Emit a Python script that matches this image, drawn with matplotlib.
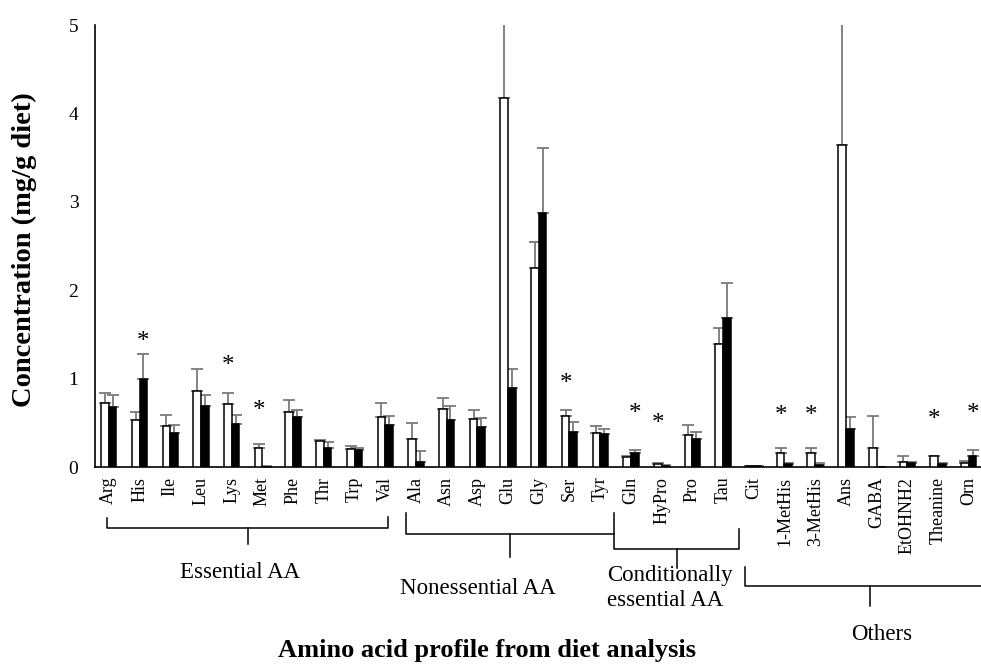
import numpy as np
import matplotlib
matplotlib.use("Agg")
import matplotlib.pyplot as plt

plt.rcParams['font.family'] = ['Liberation Serif', 'DejaVu Serif']

# Amino acids in the diet (left = white bars, right = black bars)
categories = ['Arg', 'His', 'Ile', 'Leu', 'Lys', 'Met', 'Phe', 'Thr', 'Trp', 'Val',
              'Ala', 'Asn', 'Asp', 'Glu', 'Gly', 'Ser', 'Tyr',
              'Gln', 'HyPro', 'Pro', 'Tau',
              'Cit', '1-MetHis', '3-MetHis', 'Ans', 'GABA', 'EtOHNH2', 'Theanine', 'Orn']

white_mean = [0.72, 0.53, 0.46, 0.86, 0.71, 0.21, 0.62, 0.29, 0.20, 0.56,
              0.32, 0.66, 0.54, 4.17, 2.25, 0.58, 0.38,
              0.11, 0.03, 0.36, 1.39,
              0.01, 0.16, 0.16, 3.64, 0.21, 0.06, 0.12, 0.05]
white_err = [0.12, 0.09, 0.13, 0.25, 0.13, 0.05, 0.14, 0.02, 0.04, 0.16,
             0.18, 0.12, 0.10, 1.50, 0.30, 0.06, 0.08,
             0.01, 0.01, 0.11, 0.18,
             0.005, 0.05, 0.05, 2.00, 0.37, 0.07, 0.01, 0.02]
black_mean = [0.68, 0.99, 0.39, 0.69, 0.49, 0.005, 0.56, 0.22, 0.19, 0.48,
              0.06, 0.53, 0.45, 0.89, 2.87, 0.40, 0.37,
              0.16, 0.01, 0.32, 1.69,
              0.01, 0.03, 0.02, 0.43, 0.0, 0.04, 0.03, 0.13]
black_err = [0.13, 0.29, 0.09, 0.12, 0.10, 0.01, 0.09, 0.06, 0.03, 0.10,
             0.12, 0.16, 0.10, 0.22, 0.74, 0.11, 0.06,
             0.03, 0.01, 0.08, 0.39,
             0.005, 0.01, 0.02, 0.14, 0.0, 0.02, 0.01, 0.06]

# significance marks
star_labels = ['His', 'Lys', 'Met', 'Ser', 'Gln', 'HyPro', '1-MetHis', '3-MetHis', 'Theanine', 'Orn']
star_y = [1.47, 1.20, 0.69, 0.99, 0.65, 0.54, 0.63, 0.63, 0.59, 0.65]

# group names under the axis
group_names = ['Essential AA', 'Nonessential AA', 'Conditionally\nessential AA', 'Others']

W, H = 981, 664
fig = plt.figure(figsize=(W / 100, H / 100), dpi=100)
ax = fig.add_axes([95 / W, 1 - 467 / H, 886 / W, 442 / H])

x = np.arange(len(categories))
bw = 0.25
ax.bar(x - bw / 2, white_mean, bw, color='white', edgecolor='black', linewidth=1.1, zorder=3)
ax.bar(x + bw / 2, black_mean, bw, color='black', edgecolor='black', linewidth=1.1, zorder=3)
ax.errorbar(x - bw / 2, white_mean, yerr=[np.zeros(len(x)), white_err], fmt='none',
            ecolor='#7a7a7a', elinewidth=1.3, capsize=4, capthick=1.3, zorder=2)
ax.errorbar(x + bw / 2, black_mean, yerr=[np.zeros(len(x)), black_err], fmt='none',
            ecolor='#7a7a7a', elinewidth=1.3, capsize=4, capthick=1.3, zorder=2)

# star goes over the taller bar of the pair
for lab, sy in zip(star_labels, star_y):
    i = categories.index(lab)
    sx = i - bw / 2 if white_mean[i] >= black_mean[i] else i + bw / 2
    ax.annotate('*', (sx, sy), xytext=(0, -3.5), textcoords='offset points',
                ha='center', va='center', fontsize=18)

ax.set_xlim(-0.45, 28.4)
ax.set_ylim(0, 5)
ax.set_yticks(range(6))
ax.tick_params(axis='y', length=0, pad=12, labelsize=14)
ax.set_xticks(x)
ax.set_xticklabels(categories, rotation=90, fontsize=13)
ax.tick_params(axis='x', length=0, pad=7)
for s in ['top', 'right']:
    ax.spines[s].set_visible(False)
for s in ['left', 'bottom']:
    ax.spines[s].set_linewidth(1.2)

# bracket lines under the tick labels (x in data, y in pixels -> axes fraction)
def fy(py):
    return (467 - py) / 442

tr = ax.get_xaxis_transform()
kw = dict(color='black', lw=1.1, transform=tr, clip_on=False)
# Essential
ax.plot([-0.07, -0.07, 9.09, 9.09], [fy(518), fy(528), fy(528), fy(517)], **kw)
ax.plot([4.53, 4.53], [fy(528), fy(544)], **kw)
# Nonessential
ax.plot([9.68, 9.68, 16.45], [fy(513), fy(534), fy(534)], **kw)
ax.plot([13.06, 13.06], [fy(534), fy(557)], **kw)
# Conditionally essential
ax.plot([16.45, 16.45, 20.52, 20.52], [fy(513), fy(549), fy(549), fy(529)], **kw)
ax.plot([18.50, 18.50], [fy(549), fy(568)], **kw)
# Others
ax.plot([20.72, 20.72, 29.5], [fy(567), fy(586), fy(586)], **kw)
ax.plot([24.78, 24.78], [fy(586), fy(606)], **kw)

fig.text(240 / W, 1 - 572 / H, group_names[0], ha='center', va='center', fontsize=16.5)
fig.text(478 / W, 1 - 589 / H, group_names[1], ha='center', va='center', fontsize=16.5)
fig.text(607 / W, 1 - 588 / H, group_names[2], ha='left', va='center', fontsize=16.5,
         linespacing=1.25)
fig.text(882 / W, 1 - 635 / H, group_names[3], ha='center', va='center', fontsize=16.5)

fig.text(487 / W, 1 - 650 / H, 'Amino acid profile from diet analysis',
         ha='center', va='center', fontsize=19, fontweight='bold')
fig.text(24 / W, 1 - 250 / H, 'Concentration (mg/g diet)', ha='center', va='center',
         rotation=90, fontsize=20.5, fontweight='bold')

fig.savefig('out.png', dpi=100)
